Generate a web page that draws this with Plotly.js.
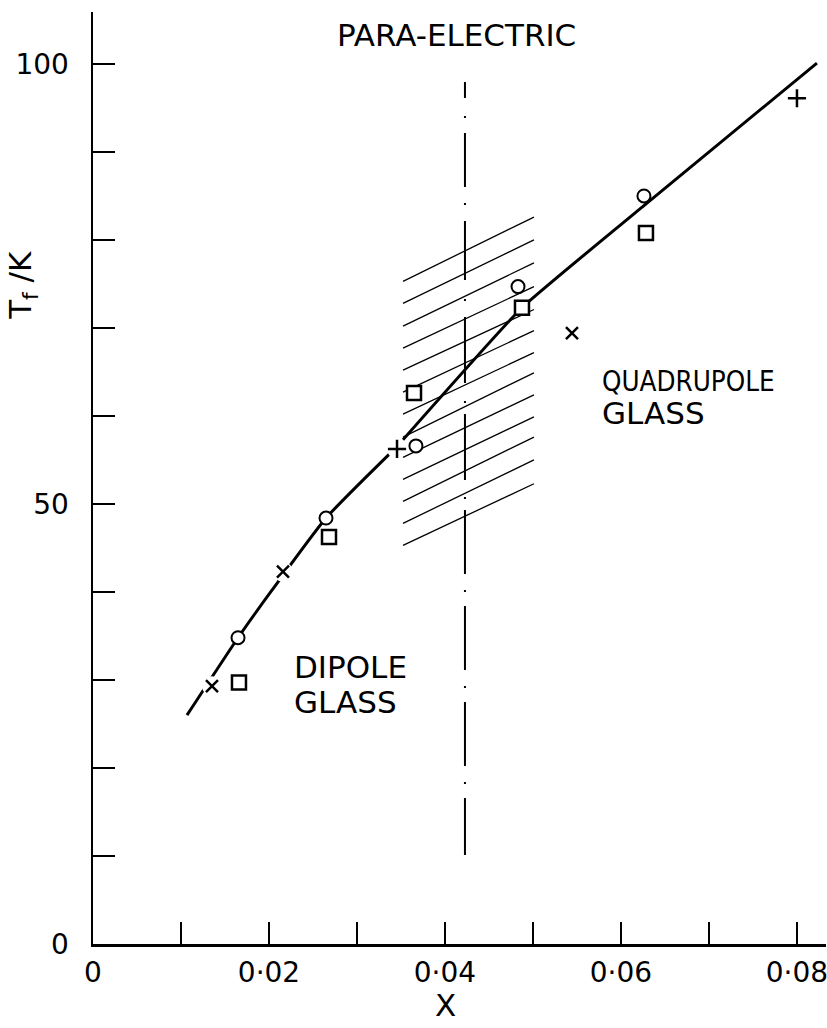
<!DOCTYPE html>
<html>
<head>
<meta charset="utf-8">
<script src="https://cdn.plot.ly/plotly-3.0.1.min.js"></script>
<style>
  html, body { margin: 0; padding: 0; background: #fff; }
  #chart { width: 827px; height: 1028px; }
</style>
</head>
<body>
<div id="chart"></div>
<script>
// ---- data ----
const circleX = [0.01648, 0.02648, 0.03670, 0.04830, 0.06261];
const circleT = [34.8, 48.4, 56.6, 74.7, 85.0];

const squareX = [0.01659, 0.02682, 0.03648, 0.04875, 0.06284];
const squareT = [29.7, 46.25, 62.6, 72.3, 80.8];

const crossX = [0.01352, 0.02159, 0.05443];
const crossT = [29.3, 42.3, 69.4];

const plusX = [0.03455, 0.0800];
const plusT = [56.25, 96.1];

// fitted curve, dipole-glass branch
const lowerCurveX = [0.01068, 0.01648, 0.02034, 0.02648, 0.03443];
const lowerCurveT = [26.0, 34.8, 40.2, 48.4, 56.4];
// fitted curve, quadrupole-glass branch
const upperCurveX = [0.03523, 0.04875, 0.06261, 0.08227];
const upperCurveT = [57.3, 72.3, 83.9, 100.1];

// para-electric boundary (dash-dot vertical line)
const boundaryX = [0.04227, 0.04227];
const boundaryT = [97.95, 10.1];

// hatched band: each line runs from hatchLeftX to hatchRightX
const hatchLeftX = 0.03523;
const hatchRightX = 0.05011;
const hatchLeftT  = [75.3, 72.8, 70.2, 67.7, 65.2, 62.7, 60.2, 57.6, 55.3, 52.8, 50.3, 47.8, 45.3];
const hatchRightT = [82.6, 80.0, 77.4, 74.7, 72.1, 69.7, 67.2, 64.9, 62.4, 59.9, 57.6, 55.0, 52.3];

const xTickVals = [0, 0.01, 0.02, 0.03, 0.04, 0.05, 0.06, 0.07, 0.08];
const xTickText = ['0', '', '0\u00B702', '', '0\u00B704', '', '0\u00B706', '', '0\u00B708'];
const yTickVals = [0, 10, 20, 30, 40, 50, 60, 70, 80, 90, 100];
const yTickText = ['0', '', '', '', '', '50', '', '', '', '', '100'];

// ---- build traces ----
const FONT = 'DejaVu Sans, Liberation Sans, sans-serif';
const NARROW = 'Liberation Sans Narrow, DejaVu Sans Condensed, Liberation Sans, sans-serif';
const traces = [];

// main curve
traces.push({x: lowerCurveX, y: lowerCurveT, mode: 'lines',
  line: {color: '#000', width: 3, shape: 'spline', smoothing: 0.5}, hoverinfo: 'skip'});
traces.push({x: upperCurveX, y: upperCurveT, mode: 'lines',
  line: {color: '#000', width: 3, shape: 'spline', smoothing: 0.4}, hoverinfo: 'skip'});

// white halo around crosses/plus (gaps in the drawn curve)
traces.push({x: crossX.concat(plusX), y: crossT.concat(plusT), mode: 'markers',
  marker: {symbol: 'circle', size: 20, color: '#fff', line: {width: 0}}, hoverinfo: 'skip'});

// hatch lines
for (let i = 0; i < hatchLeftT.length; i++) {
  traces.push({x: [hatchLeftX, hatchRightX], y: [hatchLeftT[i], hatchRightT[i]], mode: 'lines',
    line: {color: '#000', width: 1.3}, hoverinfo: 'skip'});
}

// dash-dot boundary
traces.push({x: boundaryX, y: boundaryT, mode: 'lines',
  line: {color: '#000', width: 2,
    dash: '16px,18px,2px,15px,54px,16px,2px,16px,59px,19px,2px,16px,66px,18px,2px,11px,66px,17px,2px,11px,64px,16px,2px,14px,64px,16px,2px,14px,64px,16px,2px,14px,64px,16px,2px,14px'},
  hoverinfo: 'skip'});

// markers
traces.push({x: circleX, y: circleT, mode: 'markers',
  marker: {symbol: 'circle', size: 13, color: '#fff', line: {color: '#000', width: 2}}});
traces.push({x: squareX, y: squareT, mode: 'markers',
  marker: {symbol: 'square', size: 14, color: '#fff', line: {color: '#000', width: 2.5}}});
traces.push({x: crossX, y: crossT, mode: 'markers',
  marker: {symbol: 'x-thin-open', size: 12, color: '#000', line: {color: '#000', width: 2.5}}});
traces.push({x: plusX, y: plusT, mode: 'markers',
  marker: {symbol: 'cross-thin-open', size: 13, color: '#000', line: {color: '#000', width: 2.5}}});

const annFont = {family: FONT, size: 31, color: '#000'};
const layout = {
  width: 827, height: 1028,
  margin: {l: 93, r: 1, t: 12, b: 84},
  paper_bgcolor: '#fff', plot_bgcolor: '#fff',
  showlegend: false,
  xaxis: {
    range: [0, 0.0833], showgrid: false, zeroline: false,
    showline: true, linecolor: '#000', linewidth: 2.5,
    ticks: 'inside', ticklen: 22, tickwidth: 2, tickcolor: '#000',
    tickmode: 'array', tickvals: xTickVals, ticktext: xTickText,
    tickfont: {family: FONT, size: 28, color: '#000'},
    ticklabelstandoff: 2, ticklabeloverflow: 'allow'
  },
  yaxis: {
    range: [0, 105.9], showgrid: false, zeroline: false,
    showline: true, linecolor: '#000', linewidth: 2.5,
    ticks: 'inside', ticklen: 22, tickwidth: 2, tickcolor: '#000',
    tickmode: 'array', tickvals: yTickVals, ticktext: yTickText,
    tickfont: {family: FONT, size: 28, color: '#000'},
    ticklabelstandoff: 16
  },
  annotations: [
    {text: 'PARA-ELECTRIC', x: 0.04136, y: 103.3, xref: 'x', yref: 'y',
     xanchor: 'center', yanchor: 'middle', showarrow: false, font: annFont},
    {text: 'QUADRUPOLE', x: 0.05761, y: 63.98, xref: 'x', yref: 'y',
     xanchor: 'left', yanchor: 'middle', showarrow: false,
     font: {family: NARROW, size: 27.5, color: '#000'}},
    {text: 'GLASS', x: 0.05761, y: 60.34, xref: 'x', yref: 'y',
     xanchor: 'left', yanchor: 'middle', showarrow: false, font: annFont},
    {text: 'DIPOLE', x: 0.02261, y: 31.42, xref: 'x', yref: 'y',
     xanchor: 'left', yanchor: 'middle', showarrow: false, font: annFont},
    {text: 'GLASS', x: 0.02261, y: 27.5, xref: 'x', yref: 'y',
     xanchor: 'left', yanchor: 'middle', showarrow: false, font: annFont},
    {text: 'X', x: 0.0401, y: -0.0655, xref: 'x', yref: 'paper',
     xanchor: 'center', yanchor: 'middle', showarrow: false, font: annFont},
    {text: 'T<sub>f</sub> /K', x: -0.0955, y: 74.9, xref: 'paper', yref: 'y',
     xanchor: 'center', yanchor: 'middle', textangle: -90, showarrow: false, font: annFont}
  ]
};

Plotly.newPlot('chart', traces, layout, {staticPlot: true, displayModeBar: false});
</script>
</body>
</html>
